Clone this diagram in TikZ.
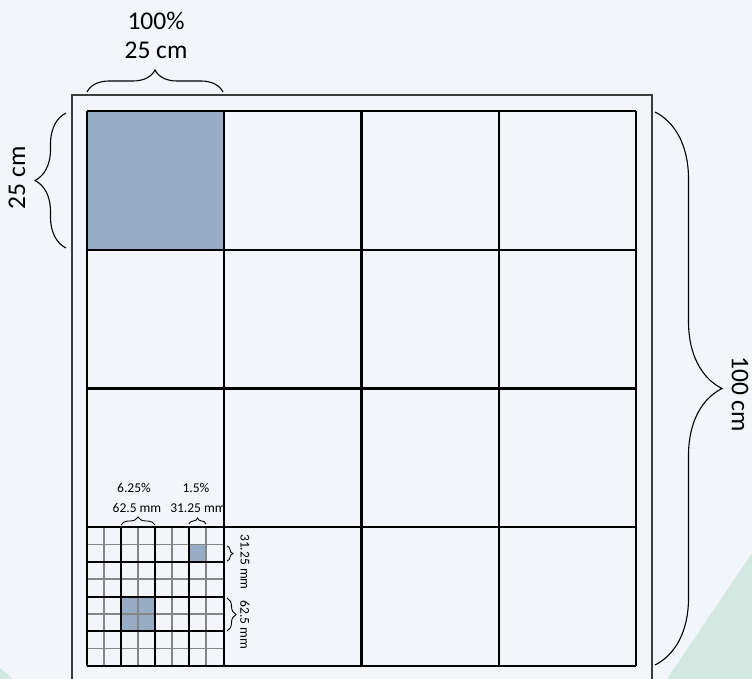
\documentclass[tikz,border=0pt]{standalone}
\usepackage{fontspec}
\setmainfont{Carlito}
\usetikzlibrary{decorations.pathreplacing}
\definecolor{bgpaper}{HTML}{F2F6FA}
\definecolor{cellblue}{HTML}{97ADC5}
\definecolor{mint}{HTML}{D2E8E0}
\definecolor{framegray}{HTML}{3C3C3C}
\definecolor{finegray}{HTML}{858585}
\tikzset{
  dimbrace/.style={decorate, decoration={brace, amplitude=#1}, line width=1.1pt},
  biglab/.style={font=\fontsize{25.5}{30}\selectfont, inner sep=0pt},
  smalllab/.style={font=\fontsize{13.5}{16}\selectfont, inner sep=0pt},
  fineline/.style={finegray, line width=1.6pt},
  thickline/.style={black, line width=2.2pt}
}

\begin{document}
\begin{tikzpicture}[x=1pt, y=-1pt]
  % Page background
  \fill[bgpaper] (0,0) rectangle (752,679);
  \useasboundingbox (0,0) rectangle (752,679);
  \fill[mint] (667,679) -- (752,553) -- (752,679) -- cycle;
  \fill[mint] (0,668) -- (13,679) -- (0,679) -- cycle;

  % Outer frame
  \draw[framegray, line width=2.5pt] (72,95) rectangle (652,692);

  % Shaded cells
  \fill[cellblue] (87,111) rectangle (223.25,249.75);
  \fill[cellblue] ({87+6*136.25/8},{527.25+138.75/8}) rectangle ({87+7*136.25/8},{527.25+2*138.75/8});
  \fill[cellblue] ({87+136.25/4},{527.25+2*138.75/4}) rectangle ({87+2*136.25/4},{527.25+3*138.75/4});

  % Subdivided cell: fine lines, then thick lines
  \foreach \i in {1,3,5,7} {
    \draw[fineline] ({87+\i*136.25/8},527.25) -- ({87+\i*136.25/8},666);
    \draw[fineline] (87,{527.25+\i*138.75/8}) -- (223.25,{527.25+\i*138.75/8});
  }
  \foreach \i in {1,2,3} {
    \draw[thickline] ({87+\i*136.25/4},527.25) -- ({87+\i*136.25/4},666);
    \draw[thickline] (87,{527.25+\i*138.75/4}) -- (223.25,{527.25+\i*138.75/4});
  }

  % Main 4x4 grid
  \foreach \i in {0,...,4} {
    \draw[black, line width=2.4pt] ({87+\i*137.25},111) -- ({87+\i*137.25},666);
    \draw[black, line width=2.4pt] (87,{111+\i*138.75}) -- (636,{111+\i*138.75});
  }

  % Large braces and labels
  \draw[dimbrace=22] (87,92) -- (223,92);
  \node[biglab] (pcttop) at (156,21) {100\%};
  \node[biglab] (cmtop) at (156,50) {25 cm};
  \draw[dimbrace=31] (66,248) -- (66,113);
  \node[biglab, rotate=90] (cmleft) at (17,178) {25 cm};
  \draw[dimbrace=67] (655,112) -- (655,665);
  \node[biglab, rotate=-90] (cmright) at (740,394) {100 cm};

  % Small braces and labels
  \draw[dimbrace=8, line width=0.9pt] (121,525) -- (155,525);
  \node[smalllab] (pctA) at (134,488) {6.25\%};
  \node[smalllab] (mmA) at (137,508) {62.5 mm};
  \draw[dimbrace=6, line width=0.9pt] (189,524) -- (206,524);
  \node[smalllab] (pctB) at (196,488) {1.5\%};
  \node[smalllab] (mmB) at (198,508) {31.25 mm};
  \draw[dimbrace=6, line width=0.9pt] (227,546) -- (227,561);
  \node[smalllab, rotate=-90] (mmC) at (245,562) {31.25 mm};
  \draw[dimbrace=9, line width=0.9pt] (227,598) -- (227,631);
  \node[smalllab, rotate=-90] (mmD) at (245,625) {62.5 mm};
\end{tikzpicture}
\end{document}
